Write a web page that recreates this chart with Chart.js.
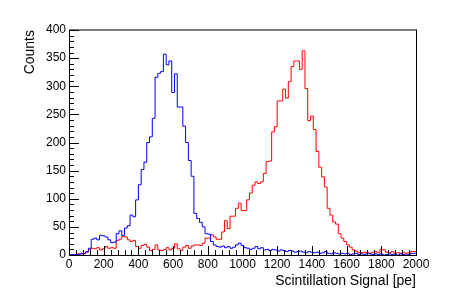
<!DOCTYPE html>
<html>
<head>
<meta charset="utf-8">
<script src="https://cdn.jsdelivr.net/npm/chart.js@4.4.1/dist/chart.umd.min.js"></script>
<style>
  body { margin: 0; background: #fff; }
  canvas { display: block; }
</style>
</head>
<body>
<canvas id="hist" width="463" height="300"></canvas>
<script>
// histogram binning
const binWidth = 16;
const xMin = 0, xMax = 2000;
const yMin = 0, yMax = 400;
const xTickStep = 200, xMinorStep = 40;
const yTickStep = 50, yMinorStep = 10;

// counts per 16 pe bin
const blueCounts = [
  0, 0, 1, 1, 1, 2, 3, 6, 12, 28,
  30, 27, 35, 34, 32, 27, 22, 23, 38, 43,
  35, 48, 52, 71, 68, 98, 125, 152, 165, 200,
  210, 243, 316, 323, 326, 357, 338, 345, 289, 322,
  263, 263, 229, 200, 168, 140, 74, 65, 58, 50,
  38, 37, 24, 18, 15, 14, 16, 13, 15, 12,
  14, 18, 21, 17, 13, 12, 10, 12, 15, 11,
  13, 9, 10, 8, 10, 9, 7, 9, 8, 6,
  8, 7, 5, 6, 7, 5, 4, 6, 5, 4,
  5, 3, 4, 6, 3, 2, 4, 3, 2, 3,
  2, 3, 1, 2, 3, 1, 2, 1, 3, 2,
  1, 2, 1, 2, 0, 1, 2, 1, 1, 0,
  2, 1, 0, 1, 3
];
const redCounts = [
  0, 0, 0, 1, 2, 3, 2, 5, 10, 12,
  11, 13, 9, 11, 15, 12, 13, 12, 26, 28,
  33, 32, 27, 24, 26, 15, 12, 17, 19, 14,
  8, 10, 18, 9, 8, 10, 13, 9, 12, 20,
  11, 8, 14, 17, 12, 16, 18, 18, 17, 21,
  30, 30, 36, 32, 28, 28, 41, 61, 47, 69,
  69, 83, 92, 79, 79, 98, 110, 124, 130, 127,
  130, 145, 166, 167, 219, 228, 274, 274, 295, 279,
  308, 335, 345, 345, 330, 363, 296, 239, 247, 223,
  184, 156, 139, 121, 83, 71, 59, 55, 38, 30,
  24, 18, 14, 9, 7, 4, 4, 5, 4, 3,
  5, 6, 4, 10, 9, 5, 4, 6, 3, 4,
  3, 5, 3, 4, 6
];

const fontFamily = "'Liberation Sans', Arial, sans-serif";

function toSteps(counts) {
  const pts = counts.map((c, i) => ({ x: xMin + i * binWidth, y: c }));
  pts.push({ x: xMin + counts.length * binWidth, y: counts[counts.length - 1] });
  return pts;
}

// ROOT-like frame with inward ticks
const rootFrame = {
  id: 'rootFrame',
  afterDraw(chart) {
    const { ctx, chartArea: a, scales: { x, y } } = chart;
    ctx.save();
    ctx.strokeStyle = '#000';
    ctx.lineWidth = 1;
    ctx.beginPath();
    for (let v = yMin; v <= yMax; v += yMinorStep) {
      const py = Math.round(y.getPixelForValue(v)) + 0.5;
      const len = v % yTickStep === 0 ? 10 : 5;
      ctx.moveTo(a.left, py);
      ctx.lineTo(a.left + len, py);
    }
    for (let v = xMin; v <= xMax; v += xMinorStep) {
      const px = Math.round(x.getPixelForValue(v)) + 0.5;
      const len = v % xTickStep === 0 ? 9 : 5;
      ctx.moveTo(px, a.bottom);
      ctx.lineTo(px, a.bottom - len);
    }
    ctx.stroke();
    ctx.strokeRect(a.left + 0.5, a.top, a.right - a.left, a.bottom - a.top + 0.5);
    ctx.restore();
  }
};

new Chart(document.getElementById('hist'), {
  type: 'line',
  data: {
    datasets: [
      { data: toSteps(blueCounts), borderColor: '#0000ff' },
      { data: toSteps(redCounts), borderColor: '#ff0000' }
    ]
  },
  options: {
    responsive: false,
    animation: false,
    devicePixelRatio: 1,
    layout: { padding: { top: 30, right: 47, left: 0, bottom: 0 } },
    elements: {
      line: { borderWidth: 1, stepped: 'after', tension: 0, fill: false },
      point: { radius: 0 }
    },
    plugins: { legend: { display: false }, tooltip: { enabled: false } },
    scales: {
      x: {
        type: 'linear', min: xMin, max: xMax,
        grid: { display: false, drawTicks: false },
        border: { display: false },
        ticks: { stepSize: xTickStep, color: '#000', padding: 2, maxRotation: 0, autoSkip: false,
                 font: { family: fontFamily, size: 12 }, callback: v => String(v) },
        title: { display: true, text: 'Scintillation Signal [pe]', align: 'end', color: '#000',
                 font: { family: fontFamily, size: 14 }, padding: { top: 0, bottom: 10 } },
        afterFit(s) { s.height = 45; }
      },
      y: {
        min: yMin, max: yMax,
        grid: { display: false, drawTicks: false },
        border: { display: false },
        ticks: { stepSize: yTickStep, color: '#000', padding: 3,
                 font: { family: fontFamily, size: 12 }, callback: v => String(v) },
        title: { display: true, text: 'Counts', align: 'end', color: '#000',
                 font: { family: fontFamily, size: 14 }, padding: { top: 22, bottom: 0 } },
        afterFit(s) { s.width = 69; }
      }
    }
  },
  plugins: [rootFrame]
});
</script>
</body>
</html>
